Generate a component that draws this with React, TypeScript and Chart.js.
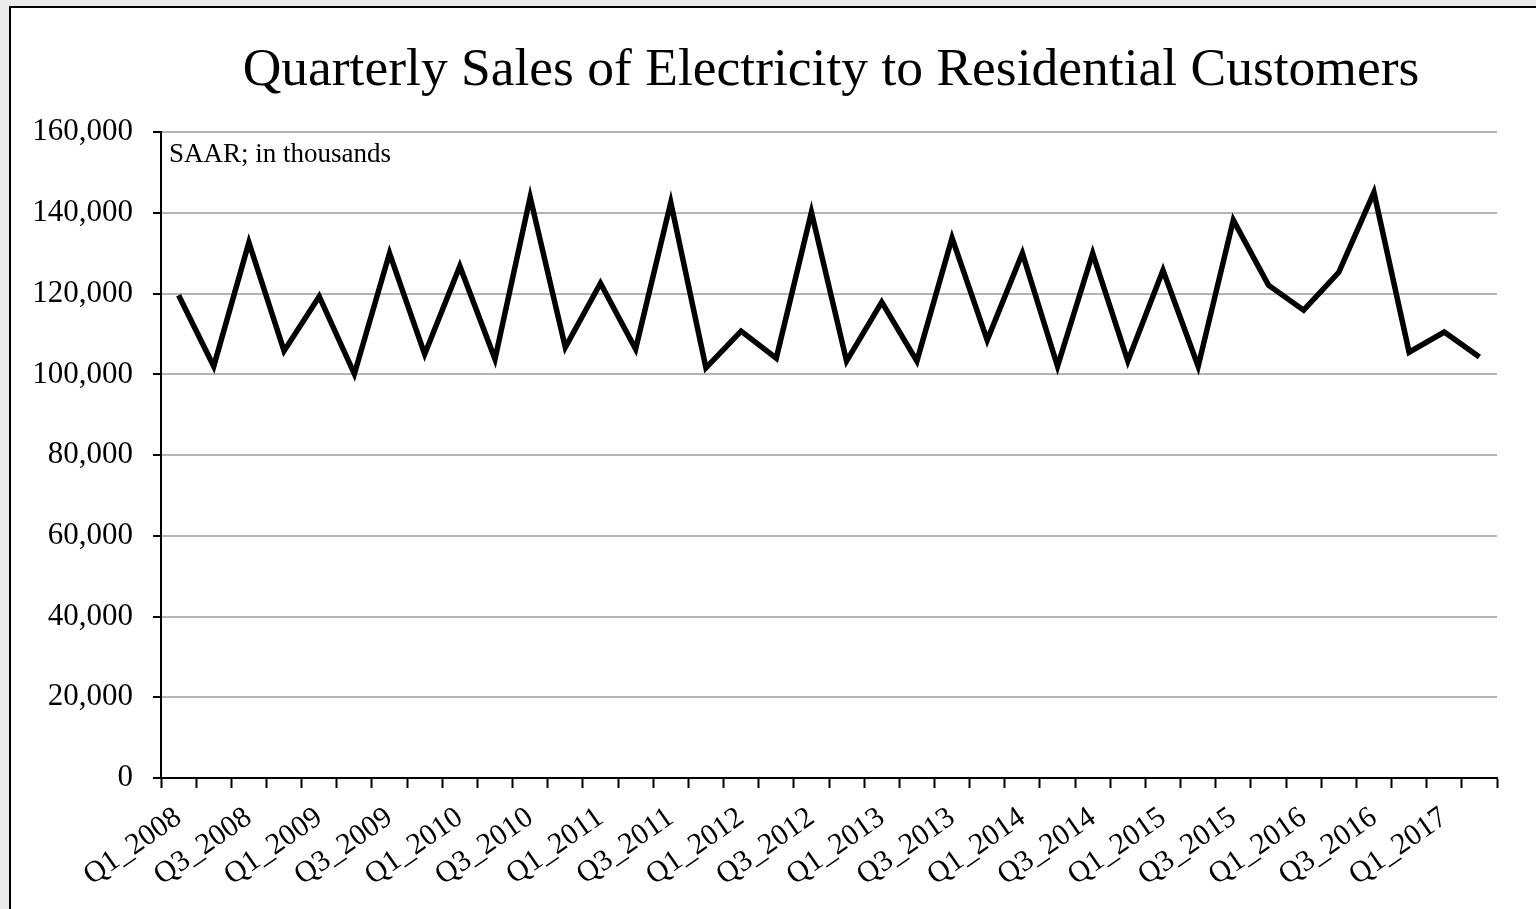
import React, { useEffect, useRef } from "react";
import { Chart, registerables } from "chart.js";

Chart.register(...registerables);

const years = [2008, 2009, 2010, 2011, 2012, 2013, 2014, 2015, 2016, 2017];
const quarterLabels: string[] = [];
years.forEach((y) => {
  ["Q1", "Q2", "Q3", "Q4"].forEach((q) => quarterLabels.push(`${q}_${y}`));
});
const categories = quarterLabels.slice(0, 38);

const salesValues = [
  119600, 102000, 132700, 105800,
  119300, 100100, 130000, 105000,
  126800, 103800, 143900, 106700,
  122600, 106300, 142600, 101600,
  110700, 104000, 140200, 103300,
  117900, 103300, 133800, 108500,
  130000, 102000, 130000, 103300,
  125800, 102000, 138200, 122100,
  115900, 125300, 145100, 105500,
  110500, 104300,
];

const yTickStep = 20000;
const yMax = 160000;
const titleText = "Quarterly Sales of Electricity to Residential Customers";
const noteText = "SAAR; in thousands";

const FONT = "'Liberation Serif', 'Times New Roman', serif";
const GRID_GRAY = "#b4b4b4";

const notePlugin = {
  id: "noteText",
  afterDraw(chart: any) {
    const { ctx, chartArea } = chart;
    ctx.save();
    ctx.font = `27px ${FONT}`;
    ctx.fillStyle = "#000";
    ctx.textAlign = "left";
    ctx.textBaseline = "alphabetic";
    ctx.fillText(noteText, chartArea.left + 8, chartArea.top + 30);
    ctx.restore();
  },
};

export default function App() {
  const canvasRef = useRef<HTMLCanvasElement | null>(null);

  useEffect(() => {
    document.body.style.margin = "0";
    document.body.style.overflow = "hidden";
    document.body.style.background = "#ebebeb";
    const canvas = canvasRef.current;
    if (!canvas) return;
    const chart = new Chart(canvas, {
      type: "line",
      data: {
        labels: categories,
        datasets: [
          {
            data: salesValues,
            borderColor: "#000",
            borderWidth: 5.5,
            pointRadius: 0,
            tension: 0,
            borderJoinStyle: "miter",
            fill: false,
            yAxisID: "y",
          },
        ],
      },
      options: {
        responsive: false,
        animation: false,
        devicePixelRatio: 1,
        layout: { padding: 0 },
        plugins: {
          legend: { display: false },
          tooltip: { enabled: false },
          title: {
            display: true,
            text: titleText,
            color: "#000",
            font: { family: FONT, size: 53.5, weight: "normal" },
            padding: { top: 31, bottom: 29 },
          },
        },
        scales: {
          x: {
            type: "category",
            offset: true,
            afterFit(scale: any) {
              scale.height = 131;
            },
            grid: {
              display: true,
              offset: true,
              drawOnChartArea: false,
              drawTicks: true,
              tickLength: 10,
              tickColor: "#000",
              tickWidth: 2,
            },
            border: { display: true, color: "#000", width: 2 },
            ticks: {
              autoSkip: false,
              maxRotation: 35,
              minRotation: 35,
              padding: 12,
              color: "#000",
              font: { family: FONT, size: 30 },
              callback: (_v: any, i: number) => (i % 2 === 0 ? categories[i] : ""),
            },
          },
          y: {
            min: 0,
            max: yMax,
            position: "left",
            afterFit(scale: any) {
              scale.width = 150;
            },
            grid: {
              color: (c: any) => (c.tick && c.tick.value === 0 ? "#000" : GRID_GRAY),
              lineWidth: 2,
              drawTicks: true,
              tickLength: 8,
              tickColor: "#000",
              tickWidth: 2,
            },
            border: { display: true, color: "#000", width: 2 },
            ticks: {
              stepSize: yTickStep,
              padding: 20,
              color: "#000",
              font: { family: FONT, size: 31 },
              callback: (v: any) => Number(v).toLocaleString("en-US"),
            },
          },
          yRightSpace: {
            position: "right",
            display: true,
            afterFit(scale: any) {
              scale.width = 154;
            },
            grid: { display: false, drawOnChartArea: false, drawTicks: false },
            border: { display: false },
            ticks: { display: false },
          },
        },
      },
      plugins: [notePlugin],
    } as any);
    return () => chart.destroy();
  }, []);

  return (
    <div
      style={{
        position: "absolute",
        left: 9,
        top: 6,
        width: 1640,
        height: 901,
        borderLeft: "2px solid #000",
        borderTop: "2px solid #000",
        background: "#fff",
      }}
    >
      <canvas ref={canvasRef} width={1640} height={901} style={{ display: "block" }} />
    </div>
  );
}
